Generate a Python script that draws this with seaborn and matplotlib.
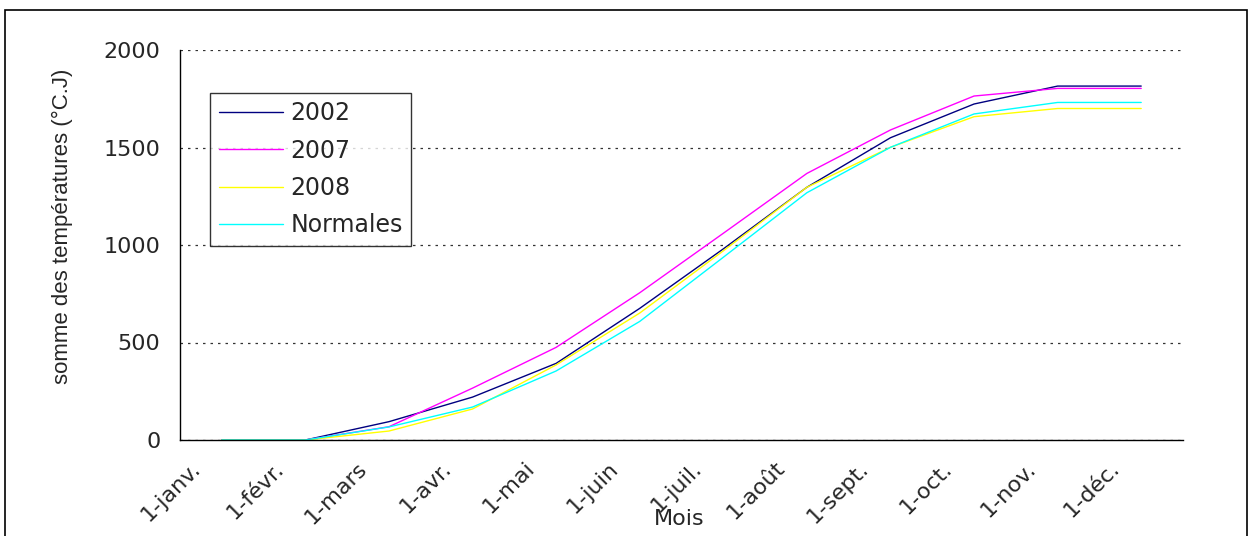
import matplotlib
matplotlib.use("Agg")
import matplotlib.pyplot as plt
import matplotlib.transforms as mtransforms
from matplotlib.patches import Rectangle
import seaborn as sns
import pandas as pd
import numpy as np

months = ["1-janv.", "1-févr.", "1-mars", "1-avr.", "1-mai", "1-juin",
          "1-juil.", "1-août", "1-sept.", "1-oct.", "1-nov.", "1-déc."]
s2002 = [0, 0, 94, 220, 393, 675, 980, 1296, 1550, 1723, 1815, 1815]
s2007 = [0, 0, 68, 266, 475, 755, 1060, 1367, 1590, 1764, 1803, 1803]
s2008 = [0, 0, 46, 159, 385, 651, 970, 1296, 1501, 1658, 1700, 1700]
normales = [0, 0, 67, 169, 354, 608, 937, 1268, 1501, 1672, 1731, 1731]
series_names = ["2002", "2007", "2008", "Normales"]
colors = ["#000080", "#FF00FF", "#FFFF00", "#00FFFF"]

frames = []
for name, vals in zip(series_names, [s2002, s2007, s2008, normales]):
    frames.append(pd.DataFrame({"Mois": months, "val": vals, "serie": name}))
df = pd.concat(frames, ignore_index=True)

sns.set_style("white")
plt.rcParams["font.family"] = ["DejaVu Sans"]
FS = 16

W, H = 1252, 536
fig = plt.figure(figsize=(W / 100, H / 100), dpi=100)
ax = fig.add_axes([180 / W, 1 - 440 / H, (1183 - 180) / W, (440 - 50) / H])

sns.lineplot(data=df, x="Mois", y="val", hue="serie", palette=colors,
             linewidth=1.0, ax=ax, sort=False)

ax.set_xlim(-0.5, 11.5)
ax.set_ylim(0, 2000)
ax.set_yticks([0, 500, 1000, 1500, 2000])
ax.set_yticklabels(["0", "500", "1000", "1500", "2000"], fontsize=FS)
ax.yaxis.grid(True, linestyle=(0, (2, 4)), color="#333333", linewidth=0.9)
ax.xaxis.grid(False)

# tick marks at category boundaries, labels at category centres
ax.set_xticks(np.arange(-0.5, 12, 1.0))
ax.set_xticklabels([""] * 13)
ax.set_xticks(np.arange(0, 12), minor=True)
ax.set_xticklabels(months, minor=True, rotation=45, ha="right",
                   rotation_mode="anchor", fontsize=FS)
ax.tick_params(axis="x", which="major", direction="out", length=7, width=1, color="black")
ax.tick_params(axis="x", which="minor", length=0, pad=0)
ax.tick_params(axis="y", direction="out", length=7, width=1, color="black", pad=7)
offset = mtransforms.ScaledTranslation(-32 / 100, -18 / 100, fig.dpi_scale_trans)
for lab in ax.get_xticklabels(minor=True):
    lab.set_transform(lab.get_transform() + offset)

for sp in ["top", "right"]:
    ax.spines[sp].set_visible(False)
for sp in ["left", "bottom"]:
    ax.spines[sp].set_color("black")
    ax.spines[sp].set_linewidth(1.0)

ax.set_xlabel("")
ax.set_ylabel("")
fig.text(62 / W, 1 - 226 / H, "somme des températures (°C.J)", rotation=90,
         ha="center", va="center", fontsize=16, family=["Liberation Sans", "DejaVu Sans"])
fig.text(679 / W, 1 - 519 / H, "Mois", ha="center", va="center", fontsize=FS)

leg = ax.legend(loc="upper left", bbox_to_anchor=(30 / 1003, (440 - 93) / 390),
                borderaxespad=0, frameon=True, fancybox=False, fontsize=17,
                handlelength=2.75, labelspacing=0.56, borderpad=0.36,
                handletextpad=0.3)
leg.get_frame().set_edgecolor("black")
leg.get_frame().set_linewidth(1.0)
for line in leg.get_lines():
    line.set_linewidth(1.0)

fig.patches.append(Rectangle((5 / W, -0.05), (1247 - 5) / W, 1 - 10 / H + 0.05,
                             transform=fig.transFigure, fill=False,
                             edgecolor="black", linewidth=1.2))

fig.savefig("out.png", dpi=100)
